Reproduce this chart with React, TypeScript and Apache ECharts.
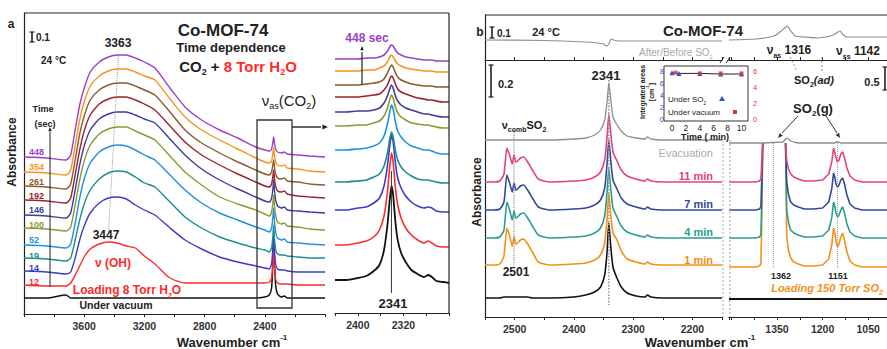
import { useEffect, useRef } from "react";
import * as echarts from "echarts";

const FONT = "'Liberation Sans', Arial, Helvetica, sans-serif";

// ---------------- Panel a : broad view (absorbance, offset for clarity) ----------------
const A_WN = [4000, 3850, 3720, 3690, 3660, 3630, 3600, 3560, 3500, 3440, 3380, 3320, 3260, 3200, 3130, 3030, 2930, 2820, 2700, 2580, 2460, 2400, 2370, 2355, 2347, 2341, 2336, 2328, 2315, 2290, 2270, 2250, 2180, 2100, 2000];
const A_448 = [1.57,1.56,1.54,1.59,1.84,2.09,2.26,2.42,2.52,2.57,2.59,2.59,2.56,2.52,2.46,2.26,2.07,1.94,1.84,1.76,1.67,1.64,1.63,1.65,1.71,1.77,1.71,1.65,1.62,1.61,1.62,1.60,1.59,1.58,1.57];
const A_354 = [1.42,1.41,1.39,1.44,1.68,1.94,2.12,2.28,2.38,2.43,2.45,2.45,2.42,2.38,2.34,2.15,1.97,1.84,1.74,1.65,1.56,1.52,1.51,1.53,1.60,1.66,1.59,1.52,1.49,1.48,1.49,1.46,1.45,1.43,1.42];
const A_261 = [1.28,1.27,1.25,1.30,1.54,1.80,1.98,2.14,2.24,2.29,2.31,2.31,2.28,2.24,2.19,2.02,1.84,1.71,1.61,1.52,1.44,1.40,1.39,1.42,1.49,1.54,1.47,1.40,1.36,1.35,1.36,1.33,1.32,1.30,1.29];
const A_192 = [1.14,1.13,1.11,1.16,1.39,1.64,1.83,1.99,2.10,2.15,2.17,2.17,2.14,2.10,2.04,1.88,1.72,1.59,1.49,1.40,1.32,1.28,1.27,1.30,1.37,1.44,1.36,1.28,1.23,1.22,1.23,1.20,1.18,1.17,1.16];
const A_146 = [0.99,0.98,0.96,1.01,1.24,1.49,1.68,1.84,1.95,2.00,2.02,2.02,1.99,1.95,1.91,1.75,1.59,1.45,1.34,1.25,1.17,1.13,1.12,1.16,1.24,1.34,1.24,1.14,1.08,1.06,1.07,1.04,1.03,1.02,1.01];
const A_100 = [0.86,0.85,0.83,0.87,1.09,1.34,1.53,1.69,1.80,1.85,1.87,1.87,1.83,1.79,1.74,1.58,1.42,1.29,1.17,1.10,1.04,1.00,0.98,1.02,1.10,1.19,1.09,0.99,0.92,0.90,0.91,0.88,0.87,0.85,0.84];
const A_52 = [0.69,0.68,0.66,0.70,0.91,1.16,1.35,1.51,1.62,1.67,1.69,1.68,1.64,1.59,1.54,1.39,1.24,1.11,1.01,0.94,0.87,0.84,0.82,0.86,0.96,1.06,0.94,0.82,0.76,0.74,0.75,0.72,0.71,0.70,0.69];
const A_19 = [0.56,0.55,0.53,0.56,0.74,0.94,1.10,1.24,1.35,1.41,1.43,1.42,1.37,1.31,1.27,1.12,0.97,0.86,0.77,0.71,0.66,0.64,0.62,0.66,0.77,0.89,0.76,0.64,0.60,0.59,0.59,0.58,0.57,0.56,0.56];
const A_14 = [0.43,0.42,0.40,0.42,0.56,0.74,0.88,1.01,1.11,1.16,1.17,1.15,1.09,1.04,0.99,0.86,0.74,0.65,0.57,0.52,0.48,0.46,0.45,0.50,0.64,0.79,0.64,0.50,0.45,0.44,0.44,0.43,0.42,0.42,0.42];
const A_12 = [0.29,0.28,0.28,0.31,0.39,0.48,0.57,0.65,0.70,0.72,0.71,0.68,0.66,0.58,0.50,0.36,0.31,0.31,0.31,0.31,0.31,0.31,0.32,0.36,0.49,0.64,0.49,0.35,0.31,0.30,0.30,0.30,0.29,0.29,0.29];
const A_VAC = [0.16,0.16,0.19,0.16,0.16,0.16,0.16,0.16,0.16,0.16,0.16,0.16,0.16,0.16,0.16,0.16,0.16,0.16,0.16,0.16,0.16,0.17,0.19,0.26,0.49,0.82,0.52,0.29,0.20,0.17,0.18,0.16,0.16,0.16,0.16];
const A_TIMES = ["448", "354", "261", "192", "146", "100", "52", "19", "14", "12"];
const A_TICK_LABELS = [3600, 3200, 2800, 2400];

// ---------------- Panel a : zoom of nu_as(CO2) ----------------
const A2_WN = [2440, 2420, 2400, 2385, 2372, 2362, 2354, 2348, 2344, 2341, 2338, 2334, 2330, 2324, 2316, 2306, 2295, 2284, 2276, 2270, 2262, 2250, 2240];
const A2_448 = [2.54,2.54,2.54,2.55,2.55,2.56,2.58,2.62,2.66,2.68,2.67,2.63,2.60,2.58,2.56,2.55,2.54,2.53,2.53,2.53,2.52,2.52,2.52];
const A2_354 = [2.42,2.42,2.42,2.43,2.43,2.45,2.47,2.51,2.56,2.58,2.56,2.52,2.49,2.47,2.45,2.44,2.43,2.42,2.42,2.42,2.41,2.41,2.41];
const A2_261 = [2.28,2.28,2.28,2.29,2.30,2.31,2.34,2.40,2.45,2.48,2.46,2.40,2.36,2.33,2.31,2.29,2.28,2.27,2.27,2.27,2.26,2.26,2.26];
const A2_192 = [2.16,2.16,2.16,2.17,2.18,2.19,2.23,2.28,2.34,2.37,2.35,2.29,2.24,2.21,2.19,2.17,2.15,2.14,2.13,2.13,2.12,2.11,2.11];
const A2_146 = [2.01,2.01,2.02,2.02,2.03,2.05,2.10,2.17,2.24,2.28,2.25,2.17,2.12,2.08,2.05,2.03,2.01,1.99,1.99,1.98,1.97,1.96,1.96];
const A2_100 = [1.87,1.87,1.88,1.88,1.90,1.92,1.97,2.05,2.13,2.18,2.15,2.06,2.00,1.96,1.93,1.90,1.89,1.88,1.88,1.87,1.86,1.85,1.85];
const A2_52 = [1.63,1.63,1.64,1.65,1.67,1.70,1.77,1.89,2.01,2.08,2.04,1.91,1.82,1.76,1.71,1.67,1.65,1.63,1.63,1.62,1.60,1.59,1.59];
const A2_19 = [1.31,1.31,1.32,1.33,1.36,1.39,1.47,1.60,1.74,1.81,1.76,1.62,1.53,1.46,1.41,1.37,1.34,1.33,1.33,1.32,1.31,1.30,1.30];
const A2_14 = [1.03,1.03,1.05,1.06,1.10,1.15,1.27,1.47,1.67,1.78,1.71,1.50,1.35,1.25,1.17,1.11,1.07,1.05,1.06,1.05,1.02,1.01,1.01];
const A2_12 = [0.68,0.68,0.70,0.72,0.76,0.83,0.97,1.21,1.46,1.60,1.51,1.25,1.08,0.95,0.85,0.78,0.73,0.70,0.72,0.70,0.67,0.66,0.66];
const A2_VAC = [0.33,0.33,0.35,0.37,0.42,0.48,0.63,0.88,1.13,1.27,1.18,0.91,0.73,0.60,0.51,0.43,0.39,0.36,0.38,0.36,0.32,0.31,0.30];
const A2_TICK_LABELS = [2400, 2320];

// ---------------- Panel b : After/Before SO2 difference ----------------
const BT_L_WN = [2550, 2450, 2380, 2360, 2350, 2345, 2341, 2337, 2333, 2325, 2300, 2250, 2150];
const BT_L_DIFF = [0.20, 0.195, 0.18, 0.17, 0.16, 0.14, 0.16, 0.21, 0.20, 0.19, 0.19, 0.19, 0.19];
const BT_R_WN = [1508, 1420, 1360, 1340, 1325, 1316, 1305, 1290, 1260, 1220, 1190, 1165, 1150, 1142, 1135, 1120, 1090, 1040, 975];
const BT_R_DIFF = [0.20, 0.21, 0.24, 0.28, 0.32, 0.34, 0.29, 0.24, 0.23, 0.22, 0.23, 0.25, 0.28, 0.29, 0.26, 0.23, 0.23, 0.23, 0.23];

// ---------------- Panel b : spectra, 2550-2150 cm-1 ----------------
const BL_WN = [2550, 2535, 2525, 2518, 2513, 2508, 2504, 2501, 2498, 2495, 2490, 2485, 2478, 2470, 2460, 2440, 2400, 2380, 2365, 2355, 2348, 2344, 2341, 2338, 2334, 2328, 2320, 2310, 2295, 2280, 2276, 2270, 2250, 2200, 2150];
const BL_EVAC = [1.77,1.77,1.77,1.77,1.77,1.77,1.77,1.77,1.77,1.77,1.77,1.77,1.77,1.77,1.77,1.77,1.78,1.79,1.82,1.87,1.97,2.15,2.34,2.19,2.00,1.93,1.86,1.81,1.79,1.78,1.80,1.78,1.77,1.77,1.77];
const BL_11 = [1.35,1.35,1.36,1.43,1.69,1.61,1.53,1.62,1.55,1.56,1.59,1.60,1.55,1.47,1.38,1.35,1.36,1.37,1.40,1.45,1.57,1.80,2.03,1.85,1.65,1.57,1.47,1.41,1.38,1.36,1.38,1.36,1.35,1.35,1.35];
const BL_7 = [1.07,1.07,1.08,1.15,1.42,1.33,1.25,1.34,1.27,1.28,1.31,1.32,1.27,1.19,1.10,1.07,1.08,1.09,1.12,1.17,1.29,1.53,1.77,1.58,1.37,1.29,1.19,1.13,1.10,1.08,1.10,1.08,1.07,1.07,1.07];
const BL_4 = [0.79,0.79,0.80,0.87,1.15,1.06,0.97,1.06,0.99,1.00,1.03,1.04,0.99,0.91,0.82,0.79,0.80,0.81,0.84,0.89,1.01,1.25,1.49,1.30,1.09,1.01,0.91,0.85,0.82,0.80,0.82,0.80,0.79,0.79,0.79];
const BL_1 = [0.52,0.52,0.53,0.61,0.89,0.80,0.71,0.80,0.73,0.74,0.77,0.78,0.73,0.65,0.55,0.52,0.53,0.54,0.57,0.62,0.74,0.98,1.24,1.04,0.84,0.78,0.66,0.58,0.55,0.53,0.55,0.53,0.52,0.52,0.52];
const BL_VAC = [0.19,0.19,0.19,0.20,0.20,0.20,0.20,0.20,0.20,0.20,0.20,0.20,0.20,0.19,0.19,0.19,0.20,0.22,0.25,0.30,0.42,0.65,0.94,0.72,0.50,0.40,0.30,0.24,0.21,0.20,0.22,0.20,0.19,0.19,0.19];
const BL_TICK_LABELS = [2500, 2400, 2300, 2200];

// ---------------- Panel b : spectra, 1508-975 cm-1 (null = off-scale gas band) ----------------
const BR_WN = [1508, 1470, 1440, 1420, 1408, 1403, 1400, 1397, 1330, 1322, 1318, 1312, 1305, 1295, 1280, 1260, 1230, 1200, 1180, 1170, 1164, 1160, 1156, 1151, 1146, 1140, 1134, 1128, 1120, 1110, 1095, 1070, 1040, 1000, 975];
const BR_EVAC = [1.74,1.74,1.74,1.74,1.74,1.74,1.74,1.74,1.75,1.78,1.79,1.78,1.76,1.75,1.74,1.74,1.74,1.74,1.74,1.74,1.74,1.74,1.75,1.75,1.75,1.74,1.74,1.74,1.74,1.74,1.74,1.74,1.74,1.74,1.74];
const BR_11 = [1.35,1.35,1.35,1.35,1.36,1.38,1.55,1.74,null,1.74,1.56,1.48,1.43,1.40,1.38,1.36,1.36,1.37,1.43,1.55,1.69,1.65,1.59,1.55,1.57,1.63,1.65,1.59,1.49,1.41,1.37,1.35,1.35,1.35,1.35];
const BR_7 = [1.07,1.07,1.07,1.07,1.08,1.10,1.40,1.74,null,1.74,1.35,1.22,1.15,1.12,1.10,1.08,1.08,1.09,1.15,1.28,1.44,1.40,1.33,1.30,1.32,1.37,1.39,1.33,1.22,1.13,1.09,1.07,1.07,1.07,1.07];
const BR_4 = [0.79,0.79,0.79,0.79,0.80,0.82,1.20,1.74,null,1.74,1.07,0.94,0.87,0.84,0.82,0.80,0.80,0.81,0.87,0.99,1.15,1.11,1.04,1.00,1.02,1.07,1.10,1.04,0.93,0.85,0.81,0.79,0.79,0.79,0.79];
const BR_1 = [0.50,0.50,0.50,0.50,0.51,0.53,1.00,1.74,null,1.74,0.80,0.66,0.59,0.55,0.53,0.51,0.51,0.52,0.58,0.72,0.89,0.84,0.76,0.70,0.73,0.80,0.84,0.77,0.65,0.56,0.52,0.50,0.50,0.50,0.50];
const BR_VAC = [0.18,0.18,0.18,0.18,0.18,0.18,0.18,0.18,0.18,0.18,0.18,0.18,0.18,0.18,0.18,0.18,0.18,0.18,0.18,0.18,0.18,0.18,0.18,0.18,0.18,0.18,0.18,0.18,0.18,0.18,0.18,0.18,0.18,0.18,0.18];
const BR_TICK_LABELS = [1350, 1200, 1050];

// ---------------- Panel b inset : integrated areas ----------------
const IN_T_SO2 = [0, 1, 4, 7, 10];
const IN_SO2 = [7.7, 7.6, 7.6, 7.5, 7.5];
const IN_T_VAC = [0.5, 4, 7, 10];
const IN_VAC = [5.8, 5.7, 5.7, 5.7];

// colours
const A_COLORS = ["#9B3FC7", "#F7931E", "#8C5A2C", "#9B2230", "#3D3D9C", "#8C9A30", "#2090E0", "#1C8F8C", "#3A3ACB", "#FF2A2A"];
const B_PINK = "#E8407E", B_NAVY = "#34489A", B_TEAL = "#2A9D8F", B_ORANGE = "#F39019", B_GRAY = "#8E8E8E";
const INK = "#222";

function pairs(xs: number[], ys: (number | null)[]) {
  return xs.map((x, i) => [x, ys[i] === null ? "-" : ys[i]]);
}

function lineS(ax: number, xs: number[], ys: (number | null)[], color: string, width = 1.4, smooth: number | boolean = 0.2) {
  return {
    type: "line", xAxisIndex: ax, yAxisIndex: ax, data: pairs(xs, ys), symbol: "none",
    smooth, connectNulls: false, silent: true, clip: true,
    lineStyle: { color, width }, itemStyle: { color },
  };
}

function markS(ax: number, pts: number[][], color: string, width = 1, type: any = "dotted") {
  return {
    type: "line", xAxisIndex: ax, yAxisIndex: ax, data: pts, symbol: "none", silent: true,
    lineStyle: { color, width, type }, z: 3,
  };
}

function richStyles(size: number, color: string, weight = "bold", italic = false) {
  const base = { fontFamily: FONT, fontWeight: weight, fontStyle: italic ? "italic" : "normal" };
  const sub = Math.round(size * 0.62);
  return {
    n: { ...base, fontSize: size, fill: color, lineHeight: size + 5 },
    s: { ...base, fontSize: sub, fill: color, verticalAlign: "bottom", lineHeight: sub },
    p: { ...base, fontSize: sub, fill: color, verticalAlign: "top", lineHeight: sub },
  };
}

function T(x: number, y: number, text: string, o: any = {}) {
  return {
    type: "text", x, y, z: 100, silent: true, rotation: o.rot || 0,
    style: {
      text, fontFamily: FONT, fontSize: o.size || 11, fontWeight: o.weight || "bold",
      fontStyle: o.italic ? "italic" : "normal", fill: o.color || INK,
      align: o.align || "center", verticalAlign: "middle", rich: o.rich,
    },
  };
}
function L(x1: number, y1: number, x2: number, y2: number, color = INK, w = 1.2, dash?: number[]) {
  return { type: "line", z: 100, silent: true, shape: { x1, y1, x2, y2 }, style: { stroke: color, lineWidth: w, lineDash: dash } };
}
function head(tip: number[], back: number[], size = 5, color = INK) {
  const dx = tip[0] - back[0], dy = tip[1] - back[1];
  const len = Math.sqrt(dx * dx + dy * dy);
  const ux = dx / len, uy = dy / len;
  const bx = tip[0] - ux * size * 1.4, by = tip[1] - uy * size * 1.4;
  return {
    type: "polygon", z: 100, silent: true,
    shape: { points: [tip, [bx - uy * size * 0.6, by + ux * size * 0.6], [bx + uy * size * 0.6, by - ux * size * 0.6]] },
    style: { fill: color },
  };
}
function scaleBar(x: number, y1: number, y2: number) {
  return [L(x, y1, x, y2, INK, 1.6), L(x - 2.5, y1, x + 2.5, y1, INK, 1.2), L(x - 2.5, y2, x + 2.5, y2, INK, 1.2)];
}

function valueAxis(grid: number, min: number, max: number, interval: number, labels: number[] | null, o: any = {}) {
  return {
    type: "value", gridIndex: grid, inverse: true, min, max, interval,
    splitLine: { show: false },
    axisLine: { show: true, onZero: false, lineStyle: { color: INK, width: 1.2 } },
    axisTick: { show: true, length: 3, inside: !!o.inside, lineStyle: { color: INK, width: 1 } },
    axisLabel: {
      show: !!labels, fontFamily: FONT, fontSize: 10.5, fontWeight: "bold", color: "#333", margin: 6,
      formatter: (v: number) => (labels && labels.indexOf(v) >= 0 ? String(v) : ""),
    },
  };
}
function hiddenY(grid: number, max: number, showLine = false) {
  return {
    type: "value", gridIndex: grid, min: 0, max,
    splitLine: { show: false },
    axisLine: { show: showLine, onZero: false, lineStyle: { color: INK, width: 1.2 } },
    axisTick: { show: false }, axisLabel: { show: false },
  };
}

function buildOption() {
  const grids = [
    { left: 24, top: 13, width: 301, height: 301 },
    { left: 335, top: 13, width: 114, height: 300 },
    { left: 485, top: 15, width: 237, height: 45 },
    { left: 729, top: 15, width: 162, height: 45 },
    { left: 485, top: 60, width: 237, height: 257 },
    { left: 729, top: 60, width: 162, height: 257 },
    { left: 672, top: 71, width: 73, height: 48 },
  ].map((g) => ({ ...g, containLabel: false, outerBoundsMode: "none", show: false }));

  const xAxis = [
    valueAxis(0, 2000, 4000, 200, A_TICK_LABELS),
    valueAxis(1, 2240, 2440, 40, A2_TICK_LABELS),
    valueAxis(2, 2150, 2550, 50, null, { inside: true }),
    valueAxis(3, 975, 1508, 75, null, { inside: true }),
    valueAxis(4, 2150, 2550, 50, BL_TICK_LABELS),
    valueAxis(5, 975, 1508, 75, BR_TICK_LABELS),
    {
      type: "value", gridIndex: 6, min: 0, max: 10.5, interval: 2,
      splitLine: { show: false }, axisLine: { show: false },
      axisTick: { show: true, inside: true, length: 2, lineStyle: { color: INK } },
      axisLabel: { fontFamily: FONT, fontSize: 8.5, color: INK, margin: 4, showMaxLabel: false },
    },
  ];
  const yAxis = [
    hiddenY(0, 3.01, true),
    hiddenY(1, 3.0),
    hiddenY(2, 0.45, true),
    hiddenY(3, 0.45),
    hiddenY(4, 2.57, true),
    hiddenY(5, 2.57),
    {
      type: "value", gridIndex: 6, min: 0, max: 8, interval: 2, position: "left",
      splitLine: { show: false }, axisLine: { show: false },
      axisTick: { show: true, inside: true, length: 2, lineStyle: { color: INK } },
      axisLabel: { fontFamily: FONT, fontSize: 7.5, color: "#3355CC", margin: 8 },
    },
    {
      type: "value", gridIndex: 6, min: 0, max: 6, interval: 2, position: "right",
      splitLine: { show: false }, axisLine: { show: false },
      axisTick: { show: true, inside: true, length: 2, lineStyle: { color: INK } },
      axisLabel: { fontFamily: FONT, fontSize: 7.5, color: "#EE3333", margin: 8 },
    },
  ];

  const aCurves = [A_448, A_354, A_261, A_192, A_146, A_100, A_52, A_19, A_14, A_12];
  const a2Curves = [A2_448, A2_354, A2_261, A2_192, A2_146, A2_100, A2_52, A2_19, A2_14, A2_12];

  const series: any[] = [];
  // panel a (draw from bottom to top)
  series.push(lineS(0, A_WN, A_VAC, "#111", 1.5));
  for (let i = aCurves.length - 1; i >= 0; i--) series.push(lineS(0, A_WN, aCurves[i], A_COLORS[i], 1.4));
  series.push(markS(0, [[3372, 2.60], [3438, 0.82]], "#9a9a9a", 1, "dotted"));
  // panel a2
  series.push(lineS(1, A2_WN, A2_VAC, "#111", 1.8));
  for (let i = a2Curves.length - 1; i >= 0; i--) series.push(lineS(1, A2_WN, a2Curves[i], A_COLORS[i], 1.6));
  series.push(markS(1, [[2341, 0.2], [2341, 1.42]], "#333", 1, "solid"));
  // panel b top difference
  series.push(lineS(2, BT_L_WN, BT_L_DIFF, B_GRAY, 1.2));
  series.push(lineS(3, BT_R_WN, BT_R_DIFF, B_GRAY, 1.2));
  // panel b lower left
  series.push(lineS(4, BL_WN, BL_VAC, "#111", 1.6));
  series.push(lineS(4, BL_WN, BL_1, B_ORANGE, 1.6));
  series.push(lineS(4, BL_WN, BL_4, B_TEAL, 1.6));
  series.push(lineS(4, BL_WN, BL_7, B_NAVY, 1.6));
  series.push(lineS(4, BL_WN, BL_11, B_PINK, 1.6));
  series.push(lineS(4, BL_WN, BL_EVAC, B_GRAY, 1.3));
  series.push(markS(4, [[2341, 2.37], [2341, 0.12]], "#9a9a9a", 1.6, "dotted"));
  series.push(markS(4, [[2501, 1.87], [2501, 0.51]], "#8a8a8a", 1.2, "dotted"));
  // panel b lower right
  series.push(lineS(5, BR_WN, BR_VAC, "#111", 2.2, false));
  series.push(lineS(5, BR_WN, BR_1, B_ORANGE, 1.6, false));
  series.push(lineS(5, BR_WN, BR_4, B_TEAL, 1.6, false));
  series.push(lineS(5, BR_WN, BR_7, B_NAVY, 1.6, false));
  series.push(lineS(5, BR_WN, BR_11, B_PINK, 1.6, false));
  series.push(lineS(5, BR_WN, BR_EVAC, B_GRAY, 1.3, false));
  series.push(markS(5, [[1362, 1.74], [1362, 0.49]], "#9a9a9a", 1, "dotted"));
  series.push(markS(5, [[1151, 1.74], [1151, 0.49]], "#9a9a9a", 1, "dotted"));
  // inset
  series.push({
    type: "line", xAxisIndex: 6, yAxisIndex: 6, data: pairs(IN_T_SO2, IN_SO2), symbol: "triangle", symbolSize: 5,
    itemStyle: { color: "#3050D0" }, lineStyle: { color: INK, width: 1 }, silent: true, z: 5,
  });
  series.push({
    type: "scatter", xAxisIndex: 6, yAxisIndex: 7, data: pairs(IN_T_VAC, IN_VAC), symbol: "rect", symbolSize: 4,
    itemStyle: { color: "#E53030" }, silent: true, z: 6,
  });

  const timeY = [152, 167, 182, 196, 210, 225, 240, 256, 268, 282];
  const rs15 = richStyles(15, INK);
  const rr15 = richStyles(15, "#FF2A2A");
  const graphic: any[] = [
    // ---- panel a
    T(11, 24, "a", { size: 12 }),
    ...scaleBar(32, 32, 42),
    T(36, 37, "0.1", { align: "left", size: 10 }),
    T(41, 60, "24 °C", { align: "left", size: 10 }),
    T(223, 30, "Co-MOF-74", { size: 17 }),
    T(231, 47, "Time dependence", { size: 13 }),
    T(238, 66, "{n|CO}{s|2}{n| + }{r|8 Torr H}{rs|2}{r|O}", { size: 15, rich: { ...rs15, r: rr15.n, rs: rr15.s } }),
    T(289, 100, "{n|ν}{s|as}{n|(CO}{s|2}{n|)}", { size: 15, weight: "normal", rich: richStyles(15, INK, "normal") }),
    T(118, 43, "3363", { size: 12 }),
    T(106, 235, "3447", { size: 12 }),
    T(113, 263, "ν (OH)", { size: 12, color: "#FF2A2A" }),
    T(127, 290, "{n|Loading 8 Torr H}{s|2}{n|O}", { size: 12, rich: richStyles(12, "#FF2A2A") }),
    T(116, 305, "Under vacuum", { size: 10.5 }),
    T(43, 109, "Time", { size: 9 }),
    T(45, 124, "(sec)", { size: 9 }),
    L(50, 287, 50, 132, INK, 1),
    head([50, 127], [50, 140], 3),
    ...A_TIMES.map((t, i) => T(29, timeY[i], t, { align: "left", size: 9, color: A_COLORS[i] })),
    T(12, 152, "Absorbance", { size: 12, rot: Math.PI / 2 }),
    T(232, 342, "{n|Wavenumber cm}{p|-1}", { size: 13, rich: richStyles(13, INK) }),
    L(24, 13, 449, 13, INK, 1.2),
    { type: "rect", z: 100, silent: true, shape: { x: 257, y: 120, width: 35, height: 188 }, style: { fill: "none", stroke: "#333", lineWidth: 1.3 } },
    L(292, 127, 321, 127, INK, 1.4),
    head([328, 127], [310, 127], 4),
    // ---- panel a2
    T(367, 38, "448 sec", { size: 12, color: A_COLORS[0] }),
    L(362, 85, 362, 52, INK, 1.2),
    head([362, 46], [362, 60], 3),
    T(393, 303, "2341", { size: 13 }),
    L(449, 13, 449, 313, INK, 1.2),
    // ---- panel b
    T(480, 32, "b", { size: 12 }),
    ...scaleBar(492, 27, 38),
    T(497, 33, "0.1", { align: "left", size: 10 }),
    T(546, 32, "24 °C", { size: 11 }),
    T(703, 30, "Co-MOF-74", { size: 15 }),
    T(676, 52, "{n|After/Before SO}{s|2}", { size: 10, weight: "normal", rich: richStyles(10, "#A8A8A8", "normal") }),
    T(789, 50, "{n|ν}{s|as}{n| 1316}", { size: 12, rich: richStyles(12, INK) }),
    T(858, 51, "{n|ν}{s|ss}{n| 1142}", { size: 12, rich: richStyles(12, INK) }),
    L(790, 57, 797, 71, "#888", 1, [2, 2]),
    L(822, 57, 822, 71, "#888", 1, [2, 2]),
    T(814, 80, "{n|SO}{s|2}{i|(ad)}", { size: 11, rich: { ...richStyles(11, INK), i: { ...richStyles(11, INK, "bold", true).n } } }),
    T(872, 82, "0.5", { size: 11 }),
    ...scaleBar(885, 67, 90),
    T(813, 108, "{n|SO}{s|2}{n|(g)}", { size: 13, rich: richStyles(13, INK) }),
    L(798, 116, 782, 133, "#333", 1),
    head([778, 138], [798, 116], 3.5, "#333"),
    L(826, 116, 837, 133, "#333", 1),
    head([840, 138], [826, 116], 3.5, "#333"),
    ...scaleBar(491, 65, 97),
    T(498, 84, "0.2", { align: "left", size: 11 }),
    T(606, 75, "2341", { size: 13 }),
    T(524, 125, "{n|ν}{s|comb}{n|SO}{s|2}", { size: 11, rich: richStyles(11, INK) }),
    T(516, 272, "2501", { size: 12 }),
    T(713, 153, "Evacuation", { align: "right", size: 11, weight: "normal", color: "#AAAAAA" }),
    T(713, 176, "11 min", { align: "right", size: 11, color: B_PINK }),
    T(713, 204, "7 min", { align: "right", size: 11, color: B_NAVY }),
    T(713, 232, "4 min", { align: "right", size: 11, color: B_TEAL }),
    T(713, 260, "1 min", { align: "right", size: 11, color: B_ORANGE }),
    T(781, 276, "1362", { size: 9 }),
    T(838, 276, "1151", { size: 9 }),
    T(827, 288, "{n|Loading 150 Torr SO}{s|2}", { size: 11, rich: richStyles(11, B_ORANGE, "bold", true) }),
    T(477, 192, "Absorbance", { size: 12, rot: Math.PI / 2 }),
    T(700, 342, "{n|Wavenumber cm}{p|-1}", { size: 13, rich: richStyles(13, INK) }),
    L(485, 15, 887, 15, INK, 1.2),
    L(723, 140, 723, 317, "#AAAAAA", 1, [2, 2]),
    L(730, 140, 730, 317, "#AAAAAA", 1, [2, 2]),
    L(720, 63, 724, 57, INK, 1),
    L(726, 63, 730, 57, INK, 1),
    // inset
    { type: "rect", z: 1, silent: true, shape: { x: 664, y: 66, width: 84, height: 55 }, style: { fill: "#fff", stroke: "#333", lineWidth: 1 } },
    T(642, 92, "Integrated areas", { size: 7, rot: Math.PI / 2 }),
    T(651, 92, "{n|[cm}{p|-1}{n|]}", { size: 7, rot: Math.PI / 2, rich: richStyles(7, INK) }),
    T(705, 137, "Time ( min)", { size: 9 }),
    T(668, 99, "{n|Under SO}{s|2}", { align: "left", size: 8, weight: "normal", rich: richStyles(8, INK, "normal") }),
    { type: "polygon", z: 100, silent: true, shape: { points: [[722, 96], [719, 101], [725, 101]] }, style: { fill: "#3050D0" } },
    T(668, 112, "Under vacuum", { align: "left", size: 8, weight: "normal" }),
    { type: "rect", z: 100, silent: true, shape: { x: 733, y: 110, width: 4, height: 4 }, style: { fill: "#E53030" } },
  ];

  return {
    animation: false,
    backgroundColor: "#fff",
    grid: grids,
    xAxis,
    yAxis,
    series,
    graphic,
  };
}

export default function App() {
  const ref = useRef<HTMLDivElement>(null);
  useEffect(() => {
    if (!ref.current) return;
    const chart = echarts.init(ref.current, undefined, { renderer: "svg" });
    chart.setOption(buildOption() as any);
    return () => chart.dispose();
  }, []);
  return <div ref={ref} style={{ position: "fixed", left: 0, top: 0, width: 887, height: 349, background: "#fff" }} />;
}
